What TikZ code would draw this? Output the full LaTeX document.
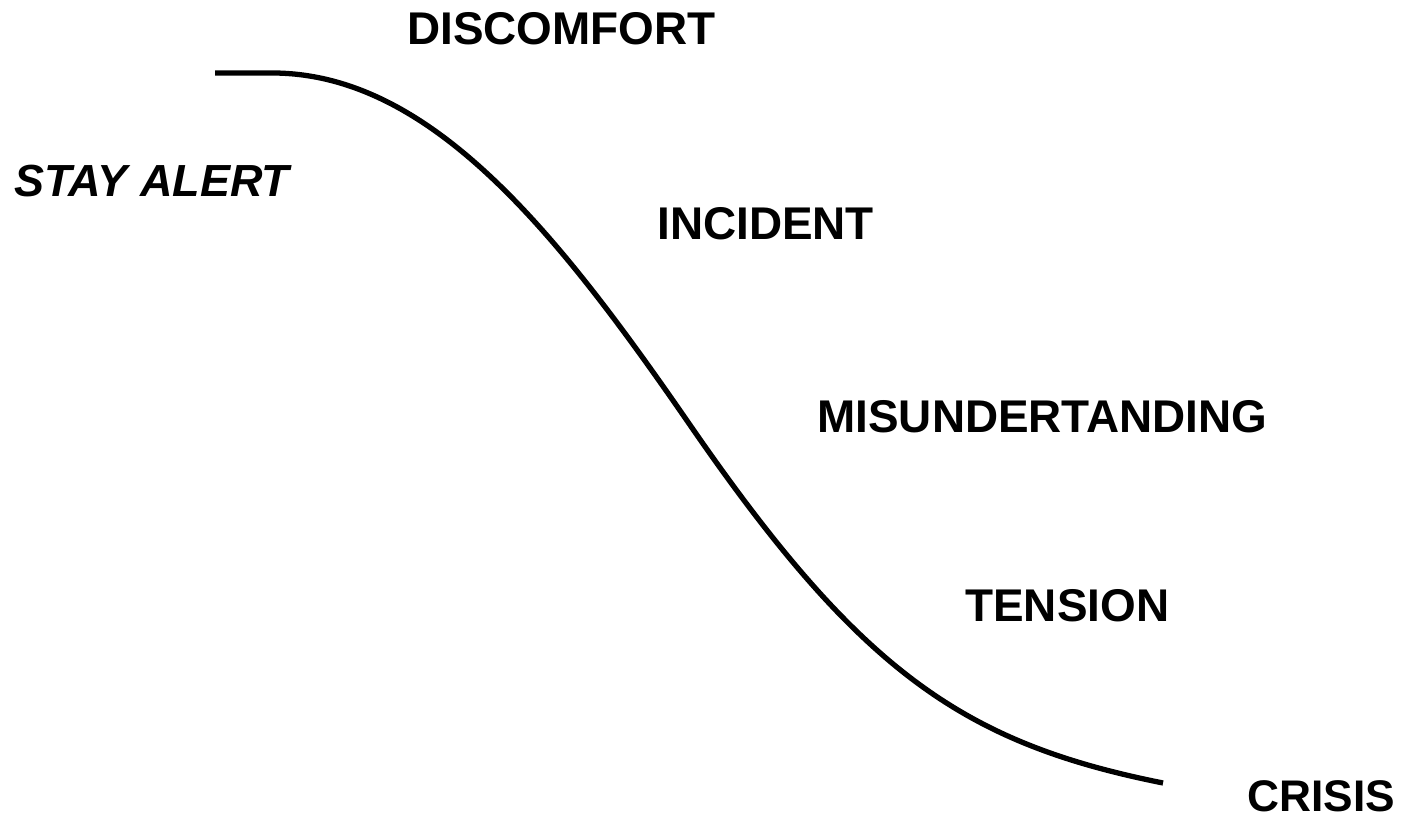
\documentclass[tikz,border=0pt]{standalone}
\usepackage{fontspec}
\setmainfont{Liberation Sans}
\usepackage{tikz}
\usetikzlibrary{positioning}

\begin{document}
\begin{tikzpicture}[x=1cm,y=1cm,
    stage/.style={anchor=base west,inner sep=0pt,
      font=\fontsize{26.1}{30}\selectfont\bfseries}]
  \useasboundingbox (0,0) rectangle (28.02,16.40);

  \node[stage,font=\fontsize{25.6}{30}\selectfont\bfseries\itshape]
    (stayalert) at (0.28,12.46) {STAY ALERT};
  \node[stage] (discomfort) at (8.14,15.50) {DISCOMFORT};
  \node[stage] (incident) at (13.14,11.60) {INCIDENT};
  \node[stage] (misunder) at (16.34,7.74) {MISUNDERTANDING};
  \node[stage] (tension) at (19.30,3.96) {TENSION};
  \node[stage,font=\fontsize{25.2}{30}\selectfont\bfseries]
    (crisis) at (24.94,0.16) {CRISIS};

  % the slide from alert to crisis
  \coordinate (alert) at (4.30,14.94);
  \coordinate (bend) at (13.80,7.90);
  \coordinate (bottom) at (23.26,0.74);
  \draw[line width=3pt] (alert) -- (5.44,14.94)
    .. controls (8.64,14.94) and (11.20,11.67) .. (bend)
    .. controls (17.20,2.97) and (19.26,1.54) .. (bottom);
\end{tikzpicture}
\end{document}
